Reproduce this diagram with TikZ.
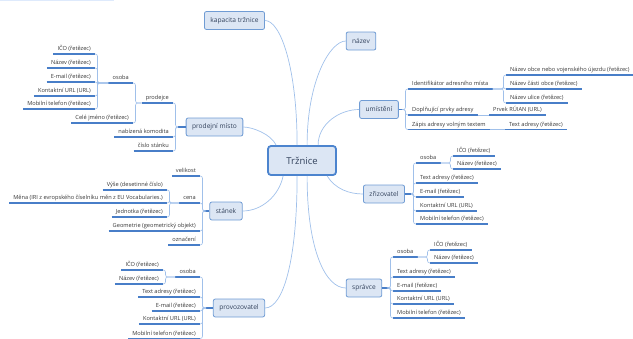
\documentclass[tikz,border=0pt]{standalone}
\usepackage{fontspec}
\setmainfont{Open Sans}
\usetikzlibrary{calc}
\definecolor{ul}{RGB}{72,126,200}
\definecolor{cn}{RGB}{160,192,234}
\definecolor{bx}{RGB}{220,230,244}
\definecolor{bd}{RGB}{112,156,212}
\definecolor{cbd}{RGB}{76,132,206}
\definecolor{tx}{RGB}{55,55,55}
\definecolor{mt}{RGB}{50,66,92}
\definecolor{topbar}{RGB}{222,234,252}
\tikzset{
  leaf/.style={font=\fontsize{5.65}{6.5}\selectfont, text=tx, inner xsep=4pt, inner ysep=1.8pt, text height=4.2pt, text depth=1.3pt},
  uline/.style={draw=ul, line width=1.6pt},
  conn/.style={draw=cn, line width=0.6pt, rounded corners=2.2pt},
  mconn/.style={draw=cn, line width=0.7pt},
  stub/.style={draw=ul, line width=1.6pt},
  mbox/.style={draw=bd, fill=bx, rounded corners=2pt, line width=0.8pt, font=\fontsize{6.6}{8}\selectfont, text=mt, minimum height=18pt, inner xsep=6pt},
  cbox/.style={draw=cbd, fill=bx, rounded corners=3pt, line width=1.8pt, font=\fontsize{9.5}{11}\selectfont, text=mt, minimum width=68pt, minimum height=29pt}
}
\newcommand\lfL[4]{\node[leaf,anchor=south east] (#1) at (#2,#3) {#4}; \draw[uline] (#1.south west) -- (#1.south east);}
\newcommand\lfR[4]{\node[leaf,anchor=south west] (#1) at (#2,#3) {#4}; \draw[uline] (#1.south west) -- (#1.south east);}
\newcommand\cL[2]{\draw[conn] (#1) -| ([xshift=2.5pt]#2) -- (#2);}
\newcommand\cR[2]{\draw[conn] (#1) -| ([xshift=-2.5pt]#2) -- (#2);}
\begin{document}
\begin{tikzpicture}[x=1pt,y=-1pt]
\useasboundingbox (0,0) rectangle (633,338);
\fill[topbar] (0,0) rectangle (114,1);

% center and main topics
\node[cbox] (c) at (302,160.5) {Tržnice};
\node[mbox] (kap) at (234.5,20.5) {kapacita tržnice};
\node[mbox] (naz) at (361,41) {název};
\node[mbox] (um) at (379,109.5) {umístění};
\node[mbox] (pm) at (214.5,127) {prodejní místo};
\node[mbox] (st) at (226,211) {stánek};
\node[mbox] (zr) at (384,194) {zřizovatel};
\node[mbox] (sp) at (364,288) {správce};
\node[mbox] (pv) at (239,308) {provozovatel};

\draw[mconn] ([xshift=30pt]c.north west) .. controls +(0,-76) and +(16,0) .. (kap.east);
\draw[mconn] ([xshift=40pt]c.north west) .. controls +(0,-66) and +(-15,0) .. (naz.west);
\draw[mconn] ([xshift=51pt]c.north west) .. controls +(0,-21) and +(-20,0) .. (um.west);
\draw[mconn] ([xshift=9pt]c.north west) .. controls +(-5,-11) and +(9,0) .. (pm.east);
\draw[mconn] ([xshift=16pt]c.south west) .. controls +(-4,20) and +(19,0) .. (st.east);
\draw[mconn] ([xshift=30pt]c.south west) .. controls +(0,85) and +(18,0) .. (pv.east);
\draw[mconn] ([xshift=40pt]c.south west) .. controls +(0,75) and +(-20,0) .. (sp.west);
\draw[mconn] ([xshift=60pt]c.south west) .. controls +(8,13) and +(-14,0) .. (zr.west);

% prodejni misto
\coordinate (jpm) at (178,127);
\draw[stub] (pm.west) -- (jpm);
\lfL{pm1}{173}{103}{prodejce}
\lfL{pm2}{173}{137}{nabízená komodita}
\lfL{pm3}{173}{151}{číslo stánku}
\lfL{os1}{133}{83}{osoba}
\lfL{cj}{133}{123}{Celé jméno (řetězec)}
\lfL{o1a}{95}{54}{IČO (řetězec)}
\lfL{o1b}{95}{68}{Název (řetězec)}
\lfL{o1c}{95}{82}{E-mail (řetězec)}
\lfL{o1d}{95}{96}{Kontaktní URL (URL)}
\lfL{o1e}{95}{109}{Mobilní telefon (řetězec)}
\foreach \n in {pm1,pm2,pm3} {\cL{jpm}{\n.south east}}
\foreach \n in {os1,cj} {\cL{pm1.south west}{\n.south east}}
\foreach \n in {o1a,o1b,o1c,o1d,o1e} {\cL{os1.south west}{\n.south east}}

% stanek
\coordinate (jst) at (204,211);
\draw[stub] (st.west) -- (jst);
\lfL{st1}{200}{176}{velikost}
\lfL{st2}{200}{203}{cena}
\lfL{st3}{200}{231}{Geometrie (geometrický objekt)}
\lfL{st4}{200}{245}{označení}
\lfL{ce1}{167}{190}{Výše (desetinné číslo)}
\lfL{ce2}{167}{203}{Měna (IRI z evropského číselníku měn z EU Vocabularies.)}
\lfL{ce3}{167}{217}{Jednotka (řetězec)}
\foreach \n in {st1,st2,st3,st4} {\cL{jst}{\n.south east}}
\foreach \n in {ce1,ce2,ce3} {\cL{st2.south west}{\n.south east}}

% provozovatel
\coordinate (jpv) at (206,308);
\draw[stub] (pv.west) -- (jpv);
\lfL{pv1}{200}{277}{osoba}
\lfL{pv2}{200}{297}{Text adresy (řetězec)}
\lfL{pv3}{200}{311}{E-mail (řetězec)}
\lfL{pv4}{200}{324}{Kontaktní URL (URL)}
\lfL{pv5}{200}{338.5}{Mobilní telefon (řetězec)}
\lfL{po1}{163}{270}{IČO (řetězec)}
\lfL{po2}{163}{284}{Název (řetězec)}
\foreach \n in {pv1,pv2,pv3,pv4,pv5} {\cL{jpv}{\n.south east}}
\foreach \n in {po1,po2} {\cL{pv1.south west}{\n.south east}}

% umisteni
\coordinate (jum) at (404,109.5);
\draw[stub] (um.east) -- (jum);
\lfR{um1}{408}{89}{Identifikátor adresního místa}
\lfR{um2}{408}{115}{Doplňující prvky adresy}
\lfR{um3}{408}{129.5}{Zápis adresy volným textem}
\lfR{id1}{506}{75}{Název obce nebo vojenského újezdu (řetězec)}
\lfR{id2}{506}{89}{Název části obce (řetězec)}
\lfR{id3}{506}{103}{Název ulice (řetězec)}
\lfR{dp1}{489}{115}{Prvek RÚIAN (URL)}
\lfR{zp1}{505}{129.5}{Text adresy (řetězec)}
\foreach \n in {um1,um2,um3} {\cR{jum}{\n.south west}}
\foreach \n in {id1,id2,id3} {\cR{um1.south east}{\n.south west}}
\draw[conn] (um2.south east) -- (dp1.south west);
\draw[conn] (um3.south east) -- (zp1.south west);

% zrizovatel
\coordinate (jzr) at (411,194);
\draw[stub] (zr.east) -- (jzr);
\lfR{zr1}{416}{163}{osoba}
\lfR{zr2}{416}{183}{Text adresy (řetězec)}
\lfR{zr3}{416}{197}{E-mail (řetězec)}
\lfR{zr4}{416}{211}{Kontaktní URL (URL)}
\lfR{zr5}{416}{224}{Mobilní telefon (řetězec)}
\lfR{zo1}{453}{156}{IČO (řetězec)}
\lfR{zo2}{453}{169}{Název (řetězec)}
\foreach \n in {zr1,zr2,zr3,zr4,zr5} {\cR{jzr}{\n.south west}}
\foreach \n in {zo1,zo2} {\cR{zr1.south east}{\n.south west}}

% spravce
\coordinate (jsp) at (389,288);
\draw[stub] (sp.east) -- (jsp);
\lfR{sp1}{393}{257}{osoba}
\lfR{sp2}{393}{277}{Text adresy (řetězec)}
\lfR{sp3}{393}{291}{E-mail (řetězec)}
\lfR{sp4}{393}{304}{Kontaktní URL (URL)}
\lfR{sp5}{393}{318}{Mobilní telefon (řetězec)}
\lfR{so1}{430}{250}{IČO (řetězec)}
\lfR{so2}{430}{263}{Název (řetězec)}
\foreach \n in {sp1,sp2,sp3,sp4,sp5} {\cR{jsp}{\n.south west}}
\foreach \n in {so1,so2} {\cR{sp1.south east}{\n.south west}}
\end{tikzpicture}
\end{document}
